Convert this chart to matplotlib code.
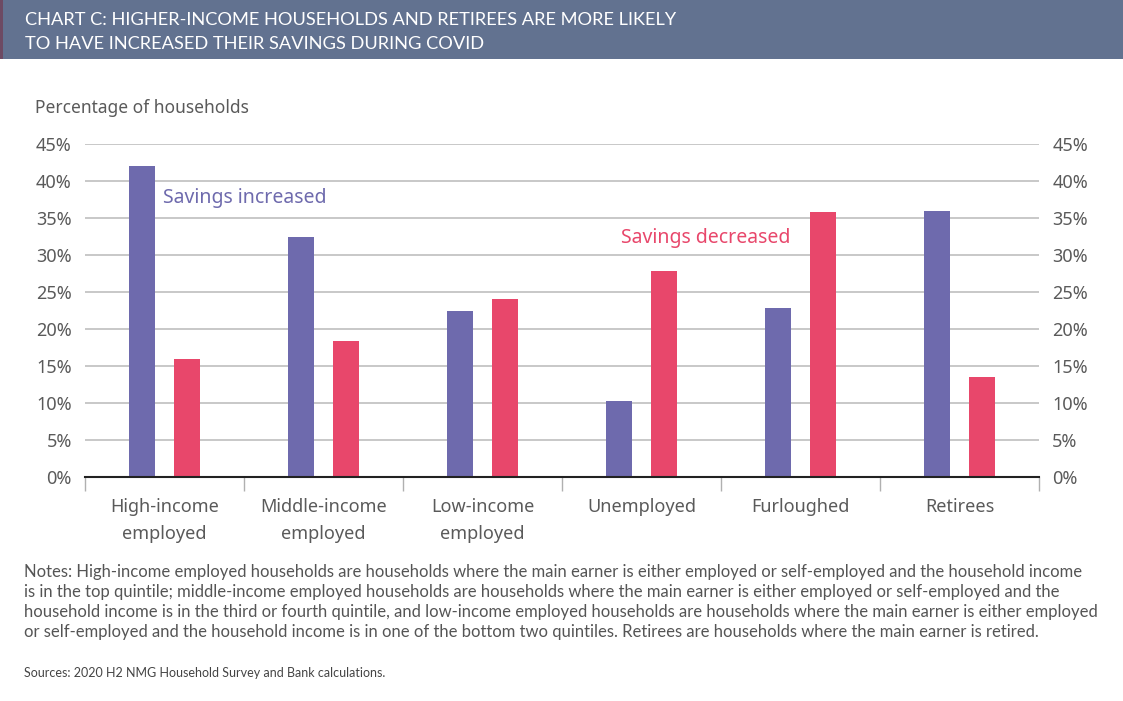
import matplotlib.pyplot as plt
import matplotlib.patches as mpatches
import numpy as np

categories = ['High-income\nemployed', 'Middle-income\nemployed', 'Low-income\nemployed',
              'Unemployed', 'Furloughed', 'Retirees']
increased = [42.0, 32.4, 22.5, 10.3, 22.8, 35.9]
decreased = [16.0, 18.4, 24.0, 27.8, 35.8, 13.5]
yticks = [0, 5, 10, 15, 20, 25, 30, 35, 40, 45]

title = ('CHART C: HIGHER-INCOME HOUSEHOLDS AND RETIREES ARE MORE LIKELY\n'
         'TO HAVE INCREASED THEIR SAVINGS DURING COVID')
notes = [
    'Notes: High-income employed households are households where the main earner is either employed or self-employed and the household income',
    'is in the top quintile; middle-income employed households are households where the main earner is either employed or self-employed and the',
    'household income is in the third or fourth quintile, and low-income employed households are households where the main earner is either employed',
    'or self-employed and the household income is in one of the bottom two quintiles. Retirees are households where the main earner is retired.',
]
sources = 'Sources: 2020 H2 NMG Household Survey and Bank calculations.'

W, H = 1123, 701
purple = '#6e6aad'
red = '#e8476b'
grey = '#5a5a5a'

fig = plt.figure(figsize=(W / 100, H / 100), dpi=100)

def fx(x):
    return x / W

def fy(y):
    return 1 - y / H

# header band
fig.patches.append(mpatches.Rectangle((0, fy(59)), 1, 59 / H, transform=fig.transFigure,
                                      facecolor='#627290', edgecolor='none', zorder=0))
fig.patches.append(mpatches.Rectangle((0, fy(59)), 3 / W, 59 / H, transform=fig.transFigure,
                                      facecolor='#6d4a63', edgecolor='none', zorder=1))
fig.text(fx(25), fy(32), title, color='white', fontsize=13.15, family='Lato',
         va='center', ha='left', linespacing=1.55)

ax = fig.add_axes([fx(85), fy(477), fx(1039) - fx(85), (477 - 144) / H])
x = np.arange(len(categories))
w = 0.165
off = 0.143
ax.bar(x - off, increased, w, color=purple, zorder=3)
ax.bar(x + off, decreased, w, color=red, zorder=3)

ax.set_xlim(-0.5, len(categories) - 0.5)
ax.set_ylim(0, 45)
ax.set_yticks(yticks)
ax.set_yticklabels([f'{v}%' for v in yticks])
ax.yaxis.grid(True, color='#c4c4c4', linewidth=1.3, zorder=0)
ax.tick_params(axis='y', length=0, labelsize=13, labelcolor=grey, pad=9.5,
               left=False, right=False, labelleft=True, labelright=True)
for t in ax.yaxis.get_major_ticks():
    t.label1.set_family('Noto Sans')
    t.label2.set_family('Noto Sans')

ax.set_xticks(x)
ax.set_xticklabels(categories, fontsize=13, color=grey, family='Noto Sans', linespacing=1.62)
ax.set_xticks(np.arange(-0.5, len(categories), 1), minor=True)
ax.tick_params(axis='x', which='major', length=0, pad=15)
ax.tick_params(axis='x', which='minor', length=10, width=1, color='#b0b0b0')

for s in ['top', 'left', 'right']:
    ax.spines[s].set_visible(False)
ax.spines['bottom'].set_color('#222222')
ax.spines['bottom'].set_linewidth(1.5)
ax.spines['bottom'].set_zorder(4)

ax.text(-0.01, 37.7, 'Savings increased', color=purple, fontsize=14, family='Noto Sans',
        va='center', ha='left', zorder=5)
ax.text(2.87, 32.3, 'Savings decreased', color=red, fontsize=14, family='Noto Sans',
        va='center', ha='left', zorder=5)

fig.text(fx(35), fy(108), 'Percentage of households', color=grey, fontsize=12.5,
         family='Noto Sans', va='center', ha='left')

for i, line in enumerate(notes):
    fig.text(fx(24), fy(572 + 20 * i), line, color='#555555', fontsize=12.0,
             family='Lato', va='center', ha='left')
fig.text(fx(24), fy(673), sources, color='#444444', fontsize=9, family='Lato',
         va='center', ha='left')

fig.savefig('out.png', dpi=100, facecolor='white')
